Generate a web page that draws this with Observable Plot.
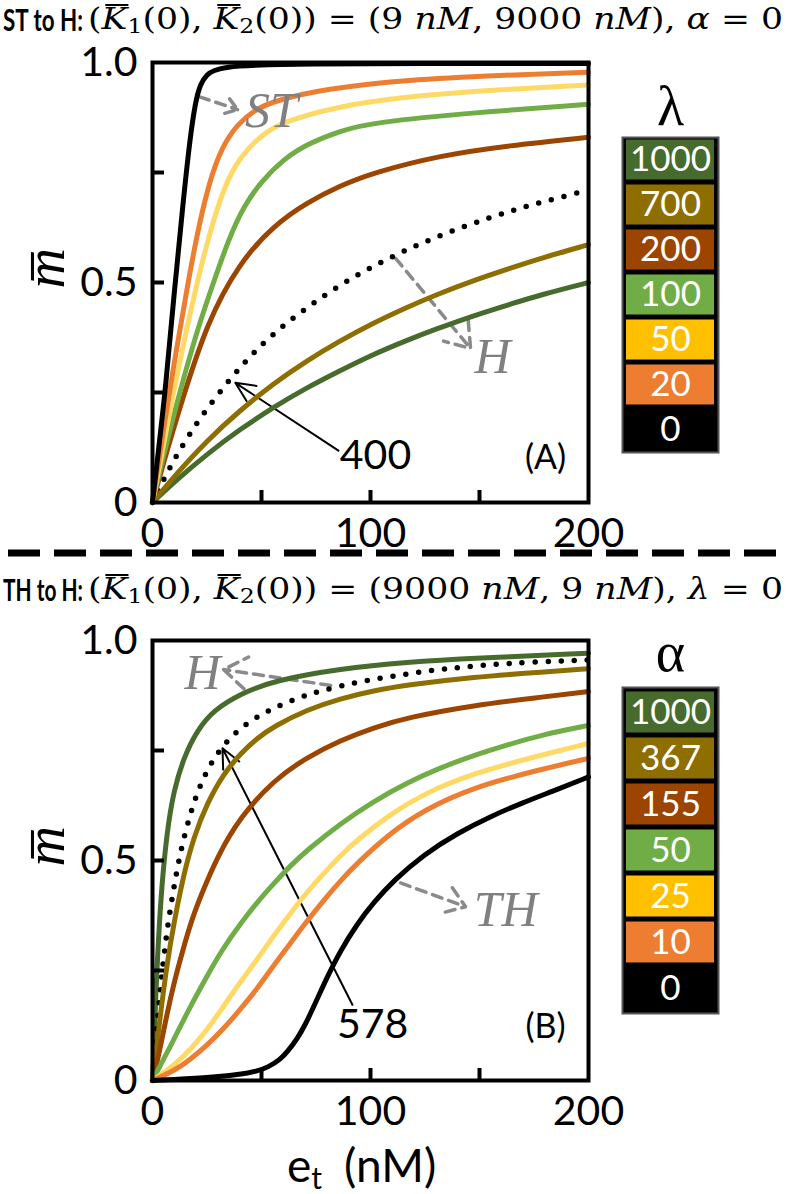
<!DOCTYPE html>
<html><head><meta charset="utf-8">
<script src="https://cdn.jsdelivr.net/npm/d3@7"></script>
<script src="https://cdn.jsdelivr.net/npm/@observablehq/plot@0.6"></script>
<style>
body{margin:0;background:#fff;}
#page{position:relative;width:786px;height:1194px;overflow:hidden;background:#fff;}
.abs{position:absolute;}
.tb{position:absolute;white-space:nowrap;font-family:Lato,"Open Sans",sans-serif;font-weight:700;font-size:31px;line-height:34px;transform-origin:left top;}
.tm{position:absolute;white-space:nowrap;font-family:"DejaVu Serif",serif;font-size:30px;line-height:34px;transform-origin:left top;}
.tm .ov{font-style:italic;position:relative;display:inline-block;}
.tm .ov::before{content:"";position:absolute;left:0.12em;right:-0.02em;top:0.06em;border-top:2px solid #000;}
.tm sub{font-size:0.68em;vertical-align:-0.2em;line-height:0;}
</style></head>
<body><div id="page">
<div class="tb" id="tbA" style="left:3px;top:2px">ST to H:</div>
<div class="tm" id="tmA" style="left:88px;top:2px">(<span class="ov">K</span><sub>1</sub>(0), <span class="ov">K</span><sub>2</sub>(0)) = (9 <i>nM</i>, 9000 <i>nM</i>), <i>α</i> = 0</div>
<div class="tb" id="tbB" style="left:3px;top:572px">TH to H:</div>
<div class="tm" id="tmB" style="left:88px;top:572px">(<span class="ov">K</span><sub>1</sub>(0), <span class="ov">K</span><sub>2</sub>(0)) = (9000 <i>nM</i>, 9 <i>nM</i>), <i>λ</i> = 0</div>
<svg class="abs" style="left:0;top:545px" width="786" height="16"><line x1="8" x2="786" y1="8" y2="8" stroke="#000" stroke-width="7" stroke-dasharray="32 14"/></svg>
<svg class="abs" style="left:280px;top:1138px" width="200" height="56"><text x="7" y="44" font-family="Lato, sans-serif" font-size="46" fill="#000">e<tspan font-size="30" dy="7">t</tspan><tspan dy="-7" dx="22">(nM)</tspan></text></svg>
</div>
<script>
// ---------- data ----------
const xTickLabels = [0, 100, 200];
const xMinorTicks = [50, 100, 150];
const yTickLabels = [0, 0.5, 1];
const yMinorTicks = [0.25, 0.5, 0.75];

const lambdaValues = ["1000", "700", "200", "100", "50", "20", "0"];
const alphaValues  = ["1000", "367", "155", "50", "25", "10", "0"];
const legendColors = ["#466B2D", "#8E6E00", "#9B4500", "#70AD47", "#FFC000", "#ED7D31", "#000000"];

// Panel A (ST to H), pairs [e_t, m]
const lam1000 = [[0,0],[10,0.047],[25,0.11],[40,0.166],[55.7,0.217],[70,0.259],[86.2,0.3],[100,0.334],[116.8,0.369],[130,0.394],[147.4,0.425],[165,0.452],[178,0.472],[200,0.5]];
const lam700  = [[0,0],[10,0.06],[25,0.141],[40,0.209],[55.7,0.271],[70,0.32],[86.2,0.368],[100,0.405],[116.8,0.444],[130,0.472],[147.4,0.505],[165,0.534],[178,0.555],[200,0.586]];
const lam400  = [[0,0],[5,0.052],[11.3,0.11],[21.3,0.19],[35.8,0.283],[48,0.35],[61.8,0.411],[84.7,0.492],[107.6,0.555],[130.6,0.605],[155,0.649],[177,0.681],[200,0.71]];
const lam200  = [[0,0],[5,0.09],[12.8,0.22],[25,0.41],[40,0.546],[55.7,0.63],[71,0.682],[86,0.72],[101.5,0.75],[132,0.789],[163,0.811],[200,0.83]];
const lam100  = [[0,0],[5,0.105],[10,0.205],[20,0.385],[27,0.486],[35,0.6],[42,0.675],[50,0.73],[60,0.78],[71,0.815],[86,0.845],[101.5,0.864],[147,0.886],[200,0.905]];
const lam50   = [[0,0],[5,0.13],[10,0.26],[15,0.38],[20,0.49],[26,0.61],[33,0.72],[40,0.785],[50,0.835],[59,0.864],[86,0.902],[117,0.922],[147,0.935],[200,0.949]];
const lam20   = [[0,0],[5,0.165],[10,0.32],[16,0.49],[20,0.6],[26,0.73],[32,0.81],[39,0.86],[47,0.893],[56,0.913],[79,0.94],[117,0.961],[160,0.971],[200,0.978]];
const lam0    = [[0,0],[3,0.13],[6,0.26],[10,0.48],[14,0.68],[17,0.82],[19.7,0.912],[22,0.952],[25,0.973],[28,0.982],[34,0.99],[45,0.994],[70,0.997],[120,0.998],[200,0.998]];

// Panel B (TH to H)
const alp1000 = [[0,0],[1.4,0.19],[3.7,0.418],[6.7,0.569],[9.8,0.66],[14.4,0.735],[20.5,0.796],[28.1,0.842],[40.4,0.879],[55.7,0.909],[86.2,0.936],[116.8,0.951],[147.4,0.96],[200,0.971]];
const alp578  = [[0,0],[2,0.12],[4,0.23],[6.7,0.345],[9.8,0.44],[13,0.525],[17.4,0.608],[21,0.66],[25,0.705],[31.2,0.756],[40.4,0.803],[51.8,0.838],[64,0.865],[77,0.886],[95.4,0.907],[115,0.923],[134,0.936],[154,0.945],[174,0.951],[200,0.956]];
const alp367  = [[0,0],[1.5,0.06],[3.7,0.153],[6.7,0.267],[9.8,0.357],[14.4,0.471],[19,0.554],[25,0.63],[32.7,0.698],[40.4,0.743],[48,0.778],[55.7,0.805],[71,0.843],[86.2,0.868],[101.5,0.886],[116.8,0.899],[147.4,0.917],[178,0.928],[200,0.936]];
const alp155  = [[0,0],[3,0.06],[6.7,0.153],[10,0.225],[14.4,0.305],[18,0.365],[22,0.418],[29.7,0.509],[40.4,0.6],[55.7,0.683],[71,0.735],[86.2,0.773],[101.5,0.802],[116.8,0.825],[147.4,0.853],[178,0.871],[200,0.884]];
const alp50   = [[0,0],[9.8,0.093],[17,0.165],[25,0.237],[32,0.298],[40.4,0.357],[48,0.405],[55.7,0.448],[63,0.487],[71,0.524],[86.2,0.584],[101.5,0.635],[116.8,0.677],[132,0.711],[147.4,0.739],[163,0.763],[178,0.785],[200,0.807]];
const alp25   = [[0,0],[10,0.035],[17.4,0.07],[25,0.115],[32.7,0.169],[40,0.222],[48,0.275],[55,0.325],[63.3,0.38],[70,0.423],[78.6,0.471],[86,0.51],[93.9,0.547],[109,0.605],[124.5,0.652],[147.4,0.699],[178,0.739],[200,0.766]];
const alp10   = [[0,0],[10,0.022],[17.4,0.048],[25,0.08],[32.7,0.118],[40,0.16],[48,0.208],[55,0.258],[63.3,0.312],[70,0.357],[78.6,0.41],[86,0.453],[93.9,0.494],[109,0.562],[124.5,0.615],[147.4,0.667],[178,0.707],[200,0.732]];
const alp0    = [[0,0],[25,0.006],[40,0.014],[48,0.021],[53,0.03],[58.7,0.048],[62,0.066],[66.4,0.095],[70,0.126],[74,0.168],[80,0.234],[86.2,0.295],[93.9,0.356],[101.5,0.405],[110.7,0.455],[124.5,0.514],[139.8,0.562],[155,0.6],[170,0.632],[186,0.662],[200,0.69]];

// annotations (data coordinates)
const notesA = [
  {x: 54.6, y: 0.889, text: "ST", kind: "italic"},
  {x: 156, y: 0.33, text: "H", kind: "italic"},
  {x: 102.3, y: 0.107, text: "400", kind: "num"},
  {x: 180.3, y: 0.1, text: "(A)", kind: "tag"}
];
const arrowsA = [
  {x1: 21.6, y1: 0.922, x2: 39, y2: 0.893, dash: true},
  {x1: 111.5, y1: 0.555, x2: 145.9, y2: 0.35, dash: true},
  {x1: 85.3, y1: 0.118, x2: 38, y2: 0.272, dash: false}
];
const notesB = [
  {x: 22.9, y: 0.927, text: "H", kind: "italic"},
  {x: 162, y: 0.388, text: "TH", kind: "italic"},
  {x: 101, y: 0.127, text: "578", kind: "num"},
  {x: 180.3, y: 0.122, text: "(B)", kind: "tag"}
];
const arrowsB = [
  {x1: 81.7, y1: 0.898, x2: 32.6, y2: 0.934, dash: true},
  {x1: 113.8, y1: 0.449, x2: 143.6, y2: 0.395, dash: true},
  {x1: 91.7, y1: 0.172, x2: 32.1, y2: 0.755, dash: false}
];

// series order: 1000, dotted middle value, then the legend order down to 0
const seriesA = [lam1000, lam400, lam700, lam200, lam100, lam50, lam20, lam0];
const seriesB = [alp1000, alp578, alp367, alp155, alp50, alp25, alp10, alp0];
const seriesColors = ["#466B2D", "#000000", "#8E6E00", "#9B4500", "#70AD47", "#FFD966", "#ED7D31", "#000000"];
const dottedIndex = 1;

// ---------- drawing ----------
const SANS = "Lato, 'Open Sans', sans-serif";
const SERIF = "'Liberation Serif', 'DejaVu Serif', serif";
const PW = 588 - 152, PH = 440;

function panel(series, notes, arrows, marginTop, marginBottom) {
  const lines = series.map((pts, i) => Plot.line(pts, Object.assign({
    x: d => d[0], y: d => d[1], stroke: seriesColors[i], strokeWidth: i === dottedIndex ? 5.5 : 5,
    curve: "basis", strokeLinecap: "round", strokeLinejoin: "round"
  }, i === dottedIndex ? {strokeDasharray: "0 13"} : {})));
  const italic = notes.filter(d => d.kind === "italic");
  const nums = notes.filter(d => d.kind === "num");
  const tags = notes.filter(d => d.kind === "tag");
  return Plot.plot({
    width: 786, height: marginTop + PH + marginBottom,
    marginLeft: 152, marginRight: 198, marginTop, marginBottom,
    x: {domain: [0, 200]}, y: {domain: [0, 1]},
    style: {fontFamily: SANS, background: "transparent", color: "black", overflow: "visible"},
    marks: [
      Plot.arrow(arrows.filter(d => d.dash), {x1: "x1", y1: "y1", x2: "x2", y2: "y2", stroke: "#8a8a8a", strokeWidth: 3.5, strokeDasharray: "10 7", headLength: 12, headAngle: 70}),
      Plot.arrow(arrows.filter(d => !d.dash), {x1: "x1", y1: "y1", x2: "x2", y2: "y2", stroke: "black", strokeWidth: 2, headLength: 16, headAngle: 50}),
      ...lines,
      Plot.tickX(xMinorTicks, {x: d => d, insetTop: PH - 12, stroke: "black", strokeWidth: 4}),
      Plot.tickY(yMinorTicks, {y: d => d, insetRight: PW - 12, stroke: "black", strokeWidth: 4}),
      Plot.frame({stroke: "black", strokeWidth: 4}),
      Plot.axisX(xTickLabels, {tickSize: 0, tickPadding: 15, fontSize: 41, label: null, fontFamily: SANS}),
      Plot.axisY(yTickLabels, {tickSize: 0, tickPadding: 15, fontSize: 41, label: null, fontFamily: SANS,
        tickFormat: d => d === 0 ? "0" : d.toFixed(1)}),
      Plot.text(["m\u0305"], {frameAnchor: "left", dx: -106, dy: 6, rotate: -90, fontSize: 56, fontStyle: "italic", fontFamily: SERIF}),
      Plot.text(italic, {x: "x", y: "y", text: "text", fontSize: 50, fontStyle: "italic", fontFamily: SERIF, fill: "#808080"}),
      Plot.text(nums, {x: "x", y: "y", text: "text", fontSize: 41, fontFamily: SANS, fill: "black"}),
      Plot.text(tags, {x: "x", y: "y", text: "text", fontSize: 34, fontFamily: SANS, fill: "black"})
    ]
  });
}

function legend(sym, labels, colors, boxH, symDy) {
  return Plot.plot({
    width: 98, height: boxH + 80, marginTop: 80, marginBottom: 0, marginLeft: 1, marginRight: 1,
    x: {axis: null}, y: {domain: labels, axis: null, padding: 0},
    color: {type: "identity"},
    style: {background: "transparent", overflow: "visible"},
    marks: [
      Plot.frame({fill: "black", stroke: "#555", strokeWidth: 2}),
      Plot.cell(labels, {y: d => d, fill: (d, i) => colors[i], insetLeft: 4, insetRight: 4, insetTop: 2.5, insetBottom: 2.5}),
      Plot.text(labels, {y: d => d, text: d => d, fill: "white", fontSize: 35, fontFamily: SANS, frameAnchor: "middle"}),
      Plot.text([sym], {frameAnchor: "top", dy: symDy, fontSize: 56, fontFamily: SERIF, fill: "black"})
    ]
  });
}

const page = document.getElementById("page");
function place(el, left, top) {
  el.style.position = "absolute"; el.style.left = left + "px"; el.style.top = top + "px";
  page.appendChild(el);
}
place(panel(seriesA, notesA, arrowsA, 20, 60), 0, 42);
place(panel(seriesB, notesB, arrowsB, 30, 40), 0, 610);
place(legend("λ", lambdaValues, legendColors, 315, -52), 621, 57);
place(legend("α", alphaValues, legendColors, 326, -56), 621, 607);

// fit the title parts to the reference's widths
function fit(id, target) {
  const el = document.getElementById(id);
  el.style.transform = "none";
  const w = el.getBoundingClientRect().width;
  el.style.transform = `scaleX(${target / w})`;
}
function fitAll() { fit("tbA", 80); fit("tbB", 80); fit("tmA", 695); fit("tmB", 695); }
fitAll();
if (document.fonts && document.fonts.ready) document.fonts.ready.then(fitAll);
</script>
</body></html>
